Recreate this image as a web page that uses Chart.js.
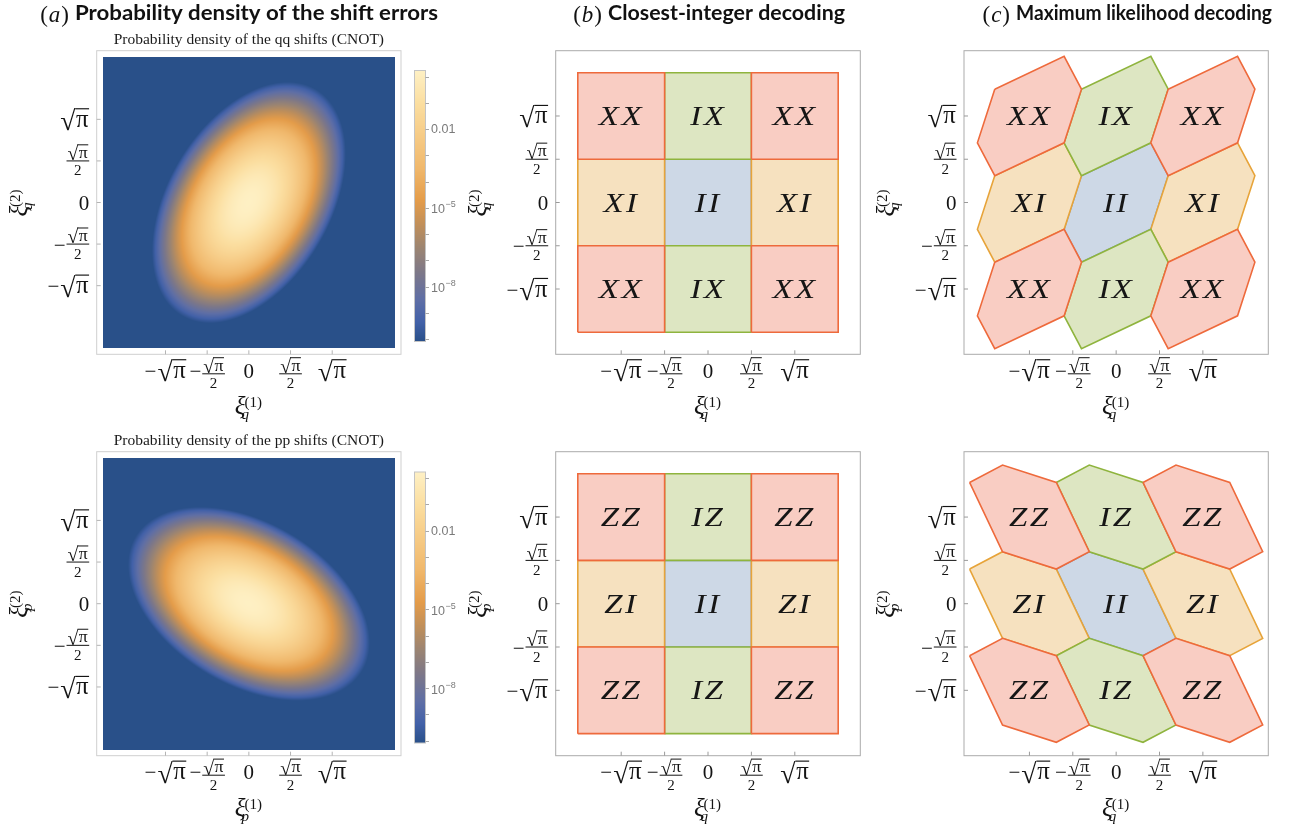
<!DOCTYPE html>
<html>
<head>
<meta charset="utf-8">
<script src="https://cdn.jsdelivr.net/npm/chart.js@4.4.1/dist/chart.umd.min.js"></script>
<style>
  html, body { margin: 0; padding: 0; background: #ffffff; width: 1294px; height: 835px; overflow: hidden; }
  #stage { position: relative; width: 1294px; height: 835px; }
  canvas.layer { position: absolute; left: 0; top: 0; pointer-events: none; }
</style>
</head>
<body>
<div id="stage"></div>
<script>
const W = 1294, H = 835;
const SQRT_PI = Math.sqrt(Math.PI);

// ---------------- data ----------------
// axis ticks, in units of sqrt(pi)
const tickMultiples = [-1, -0.5, 0, 0.5, 1];
// decoding cells: centres in units of sqrt(pi)
const cellCols = [-1, 0, 1];
const cellRows = [1, 0, -1];
const qLabels = [['XX', 'IX', 'XX'], ['XI', 'II', 'XI'], ['XX', 'IX', 'XX']];
const pLabels = [['ZZ', 'IZ', 'ZZ'], ['ZI', 'II', 'ZI'], ['ZZ', 'IZ', 'ZZ']];
// cell outlines relative to the cell centre, in units of sqrt(pi)
const squareCell = [[-0.5, -0.5], [0.5, -0.5], [0.5, 0.5], [-0.5, 0.5]];
const hexCellQ = [[-0.4, 0.31], [0.4, 0.69], [0.6, 0.31], [0.4, -0.31], [-0.4, -0.69], [-0.6, -0.31]];
const hexCellP = [[-0.69, 0.4], [-0.31, 0.6], [0.31, 0.4], [0.69, -0.4], [0.31, -0.6], [-0.31, -0.4]];
// shift-error covariances after the CNOT: [var xi1, cov, var xi2]
const covQQ = [0.09, 0.045, 0.14];
const covPP = [0.14, -0.045, 0.09];
// colour scale of the densities (log10)
const densityLogRange = [-10.07, 0.21];
const colourbarDecades = [0, -1, -2, -3, -4, -5, -6, -7, -8, -9, -10];
const colourbarLabelled = [-2, -5, -8];
// axis titles: [subscript, superscript]
const xTitles = [['q', '(1)'], ['q', '(1)'], ['q', '(1)'], ['p', '(1)'], ['q', '(1)'], ['q', '(1)']];
const yTitles = [['q', '(2)'], ['q', '(2)'], ['q', '(2)'], ['p', '(2)'], ['p', '(2)'], ['p', '(2)']];

// ---------------- styling ----------------
const densityColours = [
  [0.00, [41, 80, 137]],
  [0.07, [66, 97, 168]],
  [0.15, [94, 110, 166]],
  [0.25, [124, 119, 137]],
  [0.34, [154, 132, 115]],
  [0.43, [192, 143, 90]],
  [0.52, [228, 156, 74]],
  [0.64, [240, 184, 108]],
  [0.76, [246, 203, 134]],
  [0.88, [251, 222, 160]],
  [1.00, [254, 240, 196]]
];
const cellStyles = {
  both:   { stroke: '#ee6a3c', fill: '#f9cdc3', order: 0 },
  second: { stroke: '#8fb43e', fill: '#dde6c2', order: 1 },
  first:  { stroke: '#e7a43a', fill: '#f6e1bf', order: 2 },
  none:   { stroke: '#7f9cc2', fill: '#cdd8e6', order: 3 }
};

function serif(size, italic) {
  return (italic ? 'italic ' : '') + size + 'px "Liberation Serif", "Times New Roman", serif';
}

function colourAt(t) {
  t = Math.max(0, Math.min(1, t));
  for (let i = 1; i < densityColours.length; i++) {
    const [t1, c1] = densityColours[i];
    if (t <= t1) {
      const [t0, c0] = densityColours[i - 1];
      const f = (t - t0) / (t1 - t0);
      return [0, 1, 2].map(k => Math.round(c0[k] + f * (c1[k] - c0[k])));
    }
  }
  return densityColours[densityColours.length - 1][1];
}

const stage = document.getElementById('stage');
function layer() {
  const c = document.createElement('canvas');
  c.width = W; c.height = H; c.className = 'layer';
  stage.appendChild(c);
  return c;
}

// ---------------- tick labels with radicals and fractions ----------------
const MAIN = 21, SMALL = 15;
const RAD = 1.32;   // radical sign is drawn larger than the radicand
const PI_SCALE = 1.18;

function sqrtPiWidth(ctx, size) {
  ctx.font = serif(size * RAD);
  const wr = ctx.measureText('\u221A').width;
  ctx.font = serif(size * PI_SCALE);
  return wr + ctx.measureText('\u03C0').width + size * 0.06;
}
function drawSqrtPi(ctx, x, base, size) {
  ctx.textAlign = 'left';
  ctx.font = serif(size * RAD);
  const r = ctx.measureText('\u221A');
  const rb = base + size * 0.16;
  ctx.fillText('\u221A', x, rb);
  const top = rb - r.actualBoundingBoxAscent;
  const px = x + r.width + size * 0.03;
  ctx.font = serif(size * PI_SCALE);
  const pw = ctx.measureText('\u03C0').width;
  ctx.fillText('\u03C0', px, base);
  const x0 = x + r.actualBoundingBoxRight - 1;
  ctx.fillRect(x0, top, px + pw - x0 + 0.5, Math.max(1, size * 0.055));
  return px + pw - x;
}
function fracWidth(ctx) { return sqrtPiWidth(ctx, SMALL) + 2; }
function drawFrac(ctx, x, barY) {
  const w = fracWidth(ctx);
  drawSqrtPi(ctx, x + 1, barY - 3, SMALL);
  ctx.fillRect(x, barY - 0.5, w, 1);
  ctx.font = serif(SMALL);
  const dw = ctx.measureText('2').width;
  ctx.fillText('2', x + (w - dw) / 2, barY + 14.5);
  return w;
}
function minusWidth(ctx) { ctx.font = serif(MAIN); return ctx.measureText('\u2212').width + 1; }

function tickLabelWidth(ctx, m) {
  if (m === 0) { ctx.font = serif(MAIN); return ctx.measureText('0').width; }
  let w = m < 0 ? minusWidth(ctx) : 0;
  w += Math.abs(m) === 1 ? sqrtPiWidth(ctx, MAIN) : fracWidth(ctx);
  return w;
}
// anchor: centre x (align 'center') or right edge (align 'right')
function drawTickLabel(ctx, m, ax, base, align, barY) {
  const w = tickLabelWidth(ctx, m);
  let x = align === 'center' ? ax - w / 2 : ax - w;
  ctx.textAlign = 'left';
  if (m === 0) { ctx.font = serif(MAIN); ctx.fillText('0', x, base); return; }
  if (m < 0) { ctx.font = serif(MAIN); ctx.fillText('\u2212', x, base); x += minusWidth(ctx); }
  if (Math.abs(m) === 1) drawSqrtPi(ctx, x, base, MAIN);
  else drawFrac(ctx, x, barY);
}

function drawXi(ctx, cx, base, title) {
  const [sub, sup] = title;
  ctx.textAlign = 'left';
  ctx.font = serif(25, true); const wx = ctx.measureText('\u03BE').width;
  ctx.font = serif(15); const wsup = ctx.measureText(sup).width;
  ctx.font = serif(15, true); const wsub = ctx.measureText(sub).width;
  const total = wx + Math.max(wsup, wsub);
  const x = cx - total / 2;
  ctx.font = serif(25, true); ctx.fillText('\u03BE', x, base);
  ctx.font = serif(15); ctx.fillText(sup, x + wx - 1, base - 7);
  ctx.font = serif(15, true); ctx.fillText(sub, x + wx - 4, base + 5);
}

// ---------------- plugins ----------------
function frameAxesPlugin(frameColour, tickColour, idx) {
  return {
    id: 'frameAxes',
    afterDraw(chart) {
      const { ctx, chartArea: a, scales: { x, y } } = chart;
      ctx.save();
      ctx.lineWidth = 1;
      ctx.strokeStyle = frameColour;
      ctx.strokeRect(a.left, a.top, a.right - a.left, a.bottom - a.top);
      ctx.strokeStyle = tickColour;
      ctx.beginPath();
      tickMultiples.forEach(m => {
        const px = x.getPixelForValue(m * SQRT_PI);
        ctx.moveTo(px, a.bottom); ctx.lineTo(px, a.bottom - 4);
        const py = y.getPixelForValue(m * SQRT_PI);
        ctx.moveTo(a.left, py); ctx.lineTo(a.left + 4, py);
      });
      ctx.stroke();
      ctx.fillStyle = '#141414';
      tickMultiples.forEach(m => {
        drawTickLabel(ctx, m, x.getPixelForValue(m * SQRT_PI), a.bottom + 23.5, 'center', a.bottom + 19.5);
        const py = y.getPixelForValue(m * SQRT_PI);
        drawTickLabel(ctx, m, a.left - 7.5, py + 7.5, 'right', py);
      });
      drawXi(ctx, (a.left + a.right) / 2, a.bottom + 60, xTitles[idx]);
      ctx.translate(a.left - 70, (a.top + a.bottom) / 2);
      ctx.rotate(-Math.PI / 2);
      drawXi(ctx, 0, 0, yTitles[idx]);
      ctx.restore();
    }
  };
}

function densityPlugin(cov, extent, subtitle) {
  return {
    id: 'density',
    beforeDatasetsDraw(chart) {
      const { ctx, chartArea: a, scales: { x, y } } = chart;
      const x0 = x.getPixelForValue(-extent), x1 = x.getPixelForValue(extent);
      const y0 = y.getPixelForValue(extent), y1 = y.getPixelForValue(-extent);
      const w = Math.round(x1 - x0), h = Math.round(y1 - y0);
      const off = document.createElement('canvas');
      off.width = w; off.height = h;
      const octx = off.getContext('2d');
      const img = octx.createImageData(w, h);
      const [vx, c, vy] = cov;
      const det = vx * vy - c * c;
      const i11 = vy / det, i12 = -c / det, i22 = vx / det;
      const logPeak = Math.log10(1 / (2 * Math.PI * Math.sqrt(det)));
      const [lo, hi] = densityLogRange;
      for (let j = 0; j < h; j++) {
        const yv = y.getValueForPixel(y0 + (j + 0.5) * (y1 - y0) / h);
        for (let i = 0; i < w; i++) {
          const xv = x.getValueForPixel(x0 + (i + 0.5) * (x1 - x0) / w);
          const q = i11 * xv * xv + 2 * i12 * xv * yv + i22 * yv * yv;
          const logp = logPeak - q / 2 / Math.LN10;
          const col = colourAt((logp - lo) / (hi - lo));
          const k = 4 * (j * w + i);
          img.data[k] = col[0]; img.data[k + 1] = col[1]; img.data[k + 2] = col[2]; img.data[k + 3] = 255;
        }
      }
      octx.putImageData(img, 0, 0);
      ctx.drawImage(off, x0, y0, x1 - x0, y1 - y0);
      ctx.save();
      ctx.fillStyle = '#1a1a1a';
      ctx.font = serif(15.5);
      ctx.textAlign = 'center';
      ctx.fillText(subtitle, (a.left + a.right) / 2, a.top - 6.3);
      ctx.restore();
    }
  };
}

const cellLabelPlugin = {
  id: 'cellLabels',
  afterDatasetsDraw(chart) {
    const { ctx, scales: { x, y } } = chart;
    ctx.save();
    ctx.fillStyle = '#161616';
    ctx.font = serif(27, true);
    ctx.textBaseline = 'alphabetic';
    ctx.textAlign = 'left';
    const sx = 1.22, gap = 2;
    ctx.letterSpacing = gap + 'px';
    chart.data.datasets.forEach(ds => {
      const px = x.getPixelForValue(ds.centre[0] * SQRT_PI);
      const py = y.getPixelForValue(ds.centre[1] * SQRT_PI);
      const w = (ctx.measureText(ds.label).width - gap) * sx;
      ctx.save();
      ctx.translate(px - w / 2 - 1, py + 9);
      ctx.scale(sx, 1);
      ctx.fillText(ds.label, 0, 0);
      ctx.restore();
    });
    ctx.restore();
  }
};

function colourbarPlugin() {
  return {
    id: 'colourbar',
    afterDraw(chart) {
      const { ctx, chartArea: a, scales: { y } } = chart;
      const [lo, hi] = densityLogRange;
      ctx.save();
      for (let py = Math.floor(a.top); py < a.bottom; py++) {
        const v = y.getValueForPixel(py + 0.5);
        const col = colourAt((Math.log10(v) - lo) / (hi - lo));
        ctx.fillStyle = 'rgb(' + col.join(',') + ')';
        ctx.fillRect(a.left, py, a.right - a.left, 1);
      }
      ctx.strokeStyle = '#c4c4c4';
      ctx.lineWidth = 1;
      ctx.strokeRect(a.left - 0.5, a.top - 0.5, a.right - a.left + 1, a.bottom - a.top + 1);
      ctx.strokeStyle = '#a8a8a8';
      ctx.beginPath();
      colourbarDecades.forEach(d => {
        const py = Math.round(y.getPixelForValue(Math.pow(10, d))) + 0.5;
        ctx.moveTo(a.right + 0.5, py); ctx.lineTo(a.right + 4, py);
      });
      ctx.stroke();
      ctx.fillStyle = '#7a7a7a';
      ctx.textAlign = 'left';
      ctx.textBaseline = 'middle';
      colourbarLabelled.forEach(d => {
        const py = y.getPixelForValue(Math.pow(10, d));
        const lx = a.right + 6;
        ctx.font = '12.5px "Liberation Sans", Arial, sans-serif';
        if (d === -2) {
          ctx.fillText('0.01', lx, py + 1);
        } else {
          ctx.fillText('10', lx, py + 2);
          const w10 = ctx.measureText('10').width;
          ctx.font = '9px "Liberation Sans", Arial, sans-serif';
          ctx.fillText('\u2212' + Math.abs(d), lx + w10 + 0.5, py - 3);
        }
      });
      ctx.restore();
    }
  };
}

// ---------------- chart factories ----------------
function baseOptions(frame, half) {
  return {
    responsive: false,
    animation: false,
    devicePixelRatio: 1,
    events: [],
    layout: { padding: { left: frame.l, top: frame.t, right: W - frame.r, bottom: H - frame.b } },
    scales: {
      x: { type: 'linear', min: -half, max: half, display: false, bounds: 'data' },
      y: { type: 'linear', min: -half, max: half, display: false, bounds: 'data' }
    },
    plugins: { legend: { display: false }, tooltip: { enabled: false }, title: { display: false } }
  };
}

function cellKind(label) {
  const a = label[0] !== 'I', b = label[1] !== 'I';
  return a && b ? 'both' : a ? 'first' : b ? 'second' : 'none';
}

function cellDatasets(shape, labels) {
  const sets = [];
  cellRows.forEach((cy, r) => {
    cellCols.forEach((cx, k) => {
      const label = labels[r][k];
      const st = cellStyles[cellKind(label)];
      const pts = shape.map(([dx, dy]) => ({ x: (cx + dx) * SQRT_PI, y: (cy + dy) * SQRT_PI }));
      pts.push(pts[0]);
      sets.push({
        label, centre: [cx, cy], data: pts,
        showLine: true, fill: 'shape', tension: 0,
        pointRadius: 0, pointHoverRadius: 0,
        borderWidth: 1.6, borderColor: st.stroke, backgroundColor: st.fill,
        borderJoinStyle: 'miter', order: st.order
      });
    });
  });
  return sets;
}

function heatmapChart(frame, idx, cov, subtitle) {
  return new Chart(layer(), {
    type: 'scatter',
    data: { datasets: [] },
    options: baseOptions(frame, 3.235),
    plugins: [densityPlugin(cov, 3.105, subtitle), frameAxesPlugin('#cfcfcf', '#b4b4b4', idx)]
  });
}

function colourbarChart(bar) {
  const opts = baseOptions(bar, 1);
  opts.scales.x = { type: 'linear', min: 0, max: 1, display: false, bounds: 'data' };
  opts.scales.y = {
    type: 'logarithmic', display: false, bounds: 'data',
    min: Math.pow(10, densityLogRange[0]), max: Math.pow(10, densityLogRange[1])
  };
  return new Chart(layer(), { type: 'scatter', data: { datasets: [] }, options: opts, plugins: [colourbarPlugin()] });
}

function decodingChart(frame, idx, shape, labels) {
  return new Chart(layer(), {
    type: 'scatter',
    data: { datasets: cellDatasets(shape, labels) },
    options: baseOptions(frame, 3.11),
    plugins: [cellLabelPlugin, frameAxesPlugin('#ababab', '#9a9a9a', idx)]
  });
}

// ---------------- layout ----------------
const rowTop = [50.7, 451.7], rowBottom = [354.3, 755.7];
const colA = [96.7, 401], colB = [555.7, 860.3], colC = [964, 1268.3];
const fr = (col, row) => ({ l: col[0], r: col[1], t: rowTop[row], b: rowBottom[row] });

heatmapChart(fr(colA, 0), 0, covQQ, 'Probability density of the qq shifts (CNOT)');
heatmapChart(fr(colA, 1), 3, covPP, 'Probability density of the pp shifts (CNOT)');
colourbarChart({ l: 415, r: 425, t: 71, b: 341 });
colourbarChart({ l: 415, r: 425, t: 472.5, b: 742.5 });
decodingChart(fr(colB, 0), 1, squareCell, qLabels);
decodingChart(fr(colB, 1), 4, squareCell, pLabels);
decodingChart(fr(colC, 0), 2, hexCellQ, qLabels);
decodingChart(fr(colC, 1), 5, hexCellP, pLabels);

// ---------------- panel headings ----------------
(function headings() {
  const ctx = layer().getContext('2d');
  const items = [
    { tag: 'a', text: 'Probability density of the shift errors', x0: 75, x1: 438 },
    { tag: 'b', text: 'Closest-integer decoding', x0: 608, x1: 845 },
    { tag: 'c', text: 'Maximum likelihood decoding', x0: 1016, x1: 1272 }
  ];
  const base = 19.5;
  const TAG = 23;
  ctx.fillStyle = '#111';
  ctx.textAlign = 'left';
  items.forEach(it => {
    ctx.font = serif(TAG);
    const wp = ctx.measureText('(').width, wq = ctx.measureText(')').width;
    ctx.font = serif(TAG, true);
    const wt = ctx.measureText(it.tag).width;
    let x = it.x0 - 6 - (wp + wt + wq + 2);
    ctx.font = serif(TAG);
    ctx.fillText('(', x, base + 2);
    ctx.font = serif(TAG, true);
    ctx.fillText(it.tag, x + wp + 1, base + 2);
    ctx.font = serif(TAG);
    ctx.fillText(')', x + wp + wt + 2, base + 2);
    ctx.font = '700 20px Lato, "Open Sans", sans-serif';
    const w = ctx.measureText(it.text).width;
    ctx.save();
    ctx.translate(it.x0, base);
    ctx.scale((it.x1 - it.x0) / w, 1);
    ctx.fillText(it.text, 0, 0);
    ctx.restore();
  });
})();
</script>
</body>
</html>
